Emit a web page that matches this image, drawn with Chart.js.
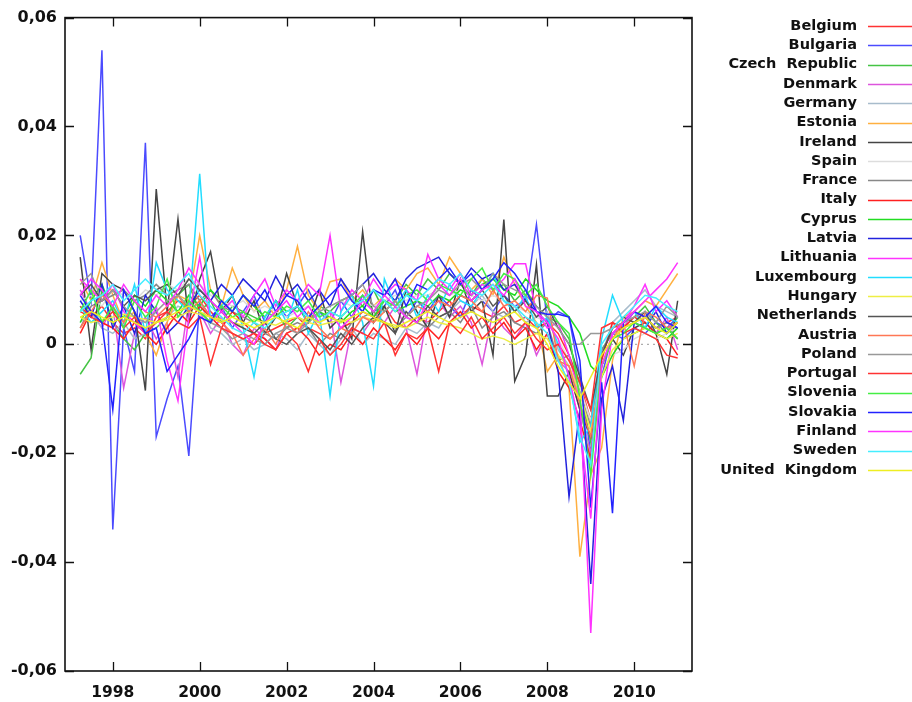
<!DOCTYPE html>
<html><head><meta charset="utf-8">
<script src="https://cdn.jsdelivr.net/npm/chart.js@4/dist/chart.umd.min.js"></script>
<style>html,body{margin:0;padding:0;background:#fff}canvas{display:block}</style>
</head><body>
<canvas id="c" width="912" height="702"></canvas>
<script>
const quarters = [1997.25,1997.5,1997.75,1998.0,1998.25,1998.5,1998.75,1999.0,
1999.25,1999.5,1999.75,2000.0,2000.25,2000.5,2000.75,2001.0,
2001.25,2001.5,2001.75,2002.0,2002.25,2002.5,2002.75,2003.0,
2003.25,2003.5,2003.75,2004.0,2004.25,2004.5,2004.75,2005.0,
2005.25,2005.5,2005.75,2006.0,2006.25,2006.5,2006.75,2007.0,
2007.25,2007.5,2007.75,2008.0,2008.25,2008.5,2008.75,2009.0,
2009.25,2009.5,2009.75,2010.0,2010.25,2010.5,2010.75,2011.0];

const xTickYears = [1998,2000,2002,2004,2006,2008,2010];
const yTickValues = [-0.06,-0.04,-0.02,0,0.02,0.04,0.06];

const countries = ['Belgium','Bulgaria','Czech  Republic','Denmark','Germany','Estonia','Ireland','Spain','France','Italy','Cyprus','Latvia','Lithuania','Luxembourg','Hungary','Netherlands','Austria','Poland','Portugal','Slovenia','Slovakia','Finland','Sweden','United  Kingdom'];

const belgium = [0.006,0.005,0.007,0.004,0.002,0.003,0.001,0.005,
0.006,0.008,0.007,0.009,0.006,0.004,0.002,0.001,
0.000,0.002,0.003,0.004,0.005,0.003,0.002,0.001,
0.003,0.004,0.006,0.005,0.007,0.004,0.003,0.005,
0.004,0.006,0.008,0.005,0.007,0.006,0.005,0.007,
0.004,0.005,0.003,0.004,0.002,-0.002,-0.007,-0.014,
-0.002,0.003,0.004,0.006,0.005,0.003,0.004,0.005];
const bulgaria = [0.020,0.008,0.054,-0.034,0.003,-0.005,0.037,-0.017,
-0.010,-0.004,-0.0205,0.008,0.005,0.007,0.003,0.006,
0.009,0.004,0.008,0.005,0.007,0.010,0.006,0.004,
0.008,0.005,0.009,0.006,0.007,0.010,0.005,0.008,
0.006,0.009,0.007,0.005,0.010,0.008,0.006,0.009,
0.007,0.008,0.022,0.004,0.006,0.005,-0.006,-0.020,
-0.006,0.002,0.001,0.003,0.002,0.004,0.003,0.005];
const czech = [-0.0055,-0.0025,0.010,0.004,0.001,-0.001,0.002,0.003,
0.005,0.009,0.011,0.006,0.008,0.004,0.007,0.006,
0.005,0.004,0.006,0.003,0.005,0.004,0.007,0.006,
0.008,0.009,0.007,0.010,0.006,0.008,0.011,0.009,
0.012,0.010,0.013,0.011,0.009,0.012,0.010,0.011,
0.008,0.010,0.007,0.005,0.004,0.001,-0.008,-0.018,
-0.001,0.002,0.004,0.005,0.007,0.004,0.002,0.005];
const denmark = [0.010,0.006,0.003,0.007,-0.008,0.002,0.005,0.001,
0.004,-0.006,0.008,0.006,0.002,0.005,0.000,-0.002,
0.003,0.001,-0.001,0.004,0.002,0.005,0.004,0.006,
-0.007,0.003,0.002,0.005,0.004,0.007,0.003,-0.0055,
0.006,0.008,0.005,0.007,0.004,-0.0037,0.006,0.003,
0.001,0.004,-0.002,0.002,-0.003,-0.005,-0.012,-0.020,
-0.004,0.001,0.003,0.006,0.004,0.002,0.005,-0.001];
const germany = [0.004,0.006,0.003,0.002,0.004,0.001,0.002,0.004,
0.005,0.007,0.006,0.008,0.003,0.002,0.000,0.001,
-0.001,0.000,0.002,0.001,-0.001,0.002,0.000,-0.002,
0.001,0.003,0.000,0.002,0.001,0.000,0.003,0.002,
0.004,0.003,0.006,0.008,0.007,0.009,0.006,0.005,
0.007,0.004,0.005,0.006,-0.001,-0.004,-0.010,-0.022,
-0.002,0.004,0.006,0.008,0.010,0.007,0.006,0.005];
const estonia = [0.012,0.008,0.015,0.009,0.004,0.006,0.002,-0.002,
0.004,0.009,0.008,0.020,0.010,0.007,0.014,0.009,
0.006,0.008,0.005,0.010,0.018,0.009,0.006,0.0115,
0.012,0.008,0.010,0.007,0.009,0.012,0.010,0.013,
0.014,0.011,0.016,0.013,0.010,0.012,0.009,0.016,
0.011,0.007,0.004,-0.005,-0.002,-0.008,-0.039,-0.024,
-0.019,-0.003,0.005,0.006,0.008,0.007,0.010,0.013];
const ireland = [0.016,-0.001,0.013,0.011,0.010,0.006,-0.0085,0.0285,
0.006,0.023,0.004,0.012,0.017,0.006,0.009,0.004,
0.008,0.002,0.005,0.013,0.007,0.004,0.010,0.003,
0.005,0.001,0.0207,0.004,0.007,0.002,0.010,0.006,
0.003,0.009,0.005,0.012,0.006,0.008,-0.002,0.0229,
-0.0068,-0.002,0.0146,-0.0095,-0.0095,-0.005,-0.012,-0.017,
-0.004,0.001,-0.002,0.003,0.004,0.002,-0.0055,0.008];
const spain = [0.008,0.009,0.007,0.010,0.009,0.008,0.010,0.009,
0.011,0.010,0.012,0.011,0.009,0.008,0.007,0.008,
0.006,0.007,0.006,0.005,0.006,0.007,0.006,0.007,
0.008,0.007,0.008,0.007,0.008,0.009,0.008,0.009,
0.009,0.010,0.009,0.010,0.009,0.008,0.009,0.008,
0.007,0.006,0.005,0.004,0.001,-0.003,-0.008,-0.014,
-0.006,-0.002,-0.001,0.001,0.002,0.001,0.002,0.003];
const france = [0.003,0.007,0.008,0.009,0.010,0.008,0.009,0.011,
0.009,0.010,0.011,0.008,0.010,0.007,0.006,0.005,
0.004,0.002,0.001,0.003,0.004,0.003,0.000,0.002,
0.001,0.004,0.005,0.006,0.004,0.003,0.005,0.004,
0.003,0.005,0.006,0.004,0.007,0.003,0.005,0.006,
0.004,0.003,0.002,0.004,-0.003,-0.002,-0.009,-0.015,
-0.001,0.002,0.003,0.004,0.005,0.003,0.004,0.003];
const italy = [0.002,0.006,0.004,0.003,0.001,0.004,0.002,0.000,
0.003,0.006,0.004,0.007,0.005,0.003,0.006,0.004,
0.002,0.001,-0.001,0.002,0.003,0.001,-0.002,0.000,
-0.001,0.002,0.000,0.003,0.001,-0.001,0.002,0.000,
0.003,0.001,0.004,0.006,0.003,0.005,0.002,0.004,
0.001,0.003,-0.001,0.002,-0.005,-0.008,-0.014,-0.021,
-0.003,0.004,0.003,0.005,0.004,0.002,0.001,-0.002];
const cyprus = [0.004,0.008,0.011,0.006,0.005,0.009,0.007,0.010,
0.008,0.006,0.009,0.007,0.010,0.008,0.006,0.009,
0.007,0.005,0.008,0.006,0.007,0.004,0.006,0.005,
0.004,0.006,0.007,0.005,0.008,0.006,0.007,0.008,
0.007,0.009,0.008,0.010,0.009,0.011,0.012,0.010,
0.009,0.012,0.010,0.008,0.007,0.005,0.002,-0.004,
-0.006,-0.002,0.001,0.002,0.003,0.002,0.001,0.003];
const latvia = [0.008,0.005,0.011,0.003,0.007,0.002,0.009,0.006,
0.002,0.004,0.007,0.010,0.008,0.011,0.009,0.012,
0.010,0.008,0.0125,0.009,0.011,0.008,0.010,0.007,
0.012,0.009,0.011,0.013,0.010,0.008,0.012,0.014,
0.015,0.016,0.013,0.011,0.014,0.012,0.013,0.010,
0.011,0.008,0.006,0.004,-0.005,-0.028,-0.012,-0.044,
-0.010,-0.004,-0.014,0.004,0.003,0.006,0.002,0.004];
const lithuania = [0.012,0.010,0.008,0.011,0.006,0.004,0.002,0.007,
-0.003,-0.0104,0.005,0.016,0.004,0.006,0.008,0.005,
0.009,0.012,0.007,0.010,0.008,0.011,0.009,0.020,
0.006,0.010,0.008,0.012,0.009,0.011,0.010,0.008,
0.0165,0.012,0.010,0.013,0.009,0.011,0.010,0.012,
0.0148,0.0148,0.006,0.003,0.004,-0.002,-0.010,-0.053,
-0.012,0.002,0.004,0.007,0.011,0.006,0.008,0.005];
const luxembourg = [0.007,0.004,0.006,0.008,0.004,0.011,0.002,0.015,
0.010,0.008,0.006,0.0313,0.004,0.007,0.009,0.003,
-0.006,0.005,0.008,0.004,0.010,0.002,0.006,-0.0095,
0.006,0.009,0.004,-0.0077,0.012,0.007,0.010,0.005,
0.009,0.006,0.011,0.008,0.007,0.010,0.013,0.008,
0.006,0.009,0.003,0.005,0.000,-0.006,-0.018,-0.015,
0.001,0.009,0.004,0.006,0.003,0.007,0.005,0.004];
const hungary = [0.005,0.004,0.0045,0.005,0.0055,0.005,0.0045,0.004,
0.0045,0.005,0.006,0.0055,0.005,0.0045,0.004,0.0035,
0.0045,0.004,0.0035,0.0045,0.005,0.004,0.0035,0.004,
0.0045,0.004,0.005,0.0045,0.004,0.0035,0.003,0.004,
0.005,0.004,0.0035,0.003,0.002,0.001,0.0015,0.001,
0.000,0.001,0.002,0.001,-0.002,-0.004,-0.009,-0.016,
-0.006,-0.001,0.001,0.002,0.003,0.002,0.001,0.002];
const netherlands = [0.009,0.011,0.008,0.010,0.007,0.009,0.008,0.010,
0.011,0.009,0.012,0.010,0.008,0.006,0.004,0.003,
0.002,0.004,0.001,0.000,0.002,0.003,0.001,-0.001,
0.002,0.000,0.003,0.005,0.004,0.002,0.006,0.004,
0.007,0.005,0.006,0.009,0.008,0.010,0.007,0.009,
0.006,0.008,0.005,0.007,0.003,0.000,-0.006,-0.012,
-0.002,0.003,0.005,0.004,0.006,0.002,0.003,0.001];
const austria = [0.003,0.006,0.009,0.007,0.004,0.008,0.006,0.005,
0.007,0.009,0.006,0.008,0.005,0.004,0.002,-0.002,
0.001,0.003,0.000,0.004,0.002,0.006,0.003,0.001,
0.003,0.002,0.005,0.004,0.006,0.008,0.005,0.007,
0.006,0.008,0.007,0.009,0.008,0.006,0.010,0.007,
0.008,0.006,0.009,0.0085,-0.003,-0.004,-0.011,-0.017,
-0.004,0.001,0.004,-0.004,0.006,0.005,0.003,0.004];
const poland = [0.011,0.013,0.008,0.010,0.007,0.005,0.004,0.006,
0.008,0.009,0.007,0.006,0.004,0.003,0.001,0.002,
0.001,0.000,0.002,0.003,0.002,0.004,0.006,0.007,
0.008,0.009,0.011,0.007,0.006,0.008,0.005,0.007,
0.008,0.010,0.009,0.011,0.012,0.010,0.013,0.011,
0.010,0.009,0.007,0.005,0.003,0.000,0.000,0.002,
0.002,0.003,0.004,0.005,0.006,0.004,0.007,0.005];
const portugal = [0.007,0.005,0.004,0.006,0.003,0.005,0.002,0.004,
0.006,0.004,0.003,0.005,-0.0037,0.003,0.002,0.001,
0.002,0.000,-0.001,0.002,0.000,-0.005,0.001,-0.002,
0.000,0.003,0.002,0.001,0.004,-0.002,0.002,0.001,
0.003,-0.005,0.004,0.002,0.005,0.001,0.003,0.005,
0.002,0.004,0.001,-0.001,0.000,-0.003,-0.007,-0.012,
0.003,0.004,0.002,0.003,0.002,0.001,-0.002,-0.0025];
const slovenia = [0.006,0.010,0.004,0.007,0.003,0.008,0.005,0.007,
0.012,0.005,0.008,0.006,0.004,0.007,0.005,0.006,
0.004,0.006,0.005,0.007,0.006,0.008,0.005,0.006,
0.005,0.007,0.009,0.006,0.008,0.007,0.009,0.010,
0.008,0.011,0.010,0.009,0.012,0.014,0.010,0.013,
0.012,0.009,0.011,0.007,0.004,0.002,-0.010,-0.024,
-0.004,0.001,0.002,0.004,0.003,0.002,0.003,0.001];
const slovakia = [0.009,0.006,0.004,-0.012,0.010,0.006,0.002,0.003,
-0.005,-0.002,0.001,0.005,0.004,0.008,0.006,0.009,
0.007,0.010,0.006,0.009,0.008,0.005,0.007,0.009,
0.011,0.008,0.006,0.010,0.009,0.012,0.007,0.011,
0.010,0.012,0.014,0.011,0.013,0.010,0.012,0.015,
0.013,0.010,0.006,0.0055,0.0055,0.005,-0.003,-0.030,
-0.007,-0.031,0.004,0.006,0.005,0.007,0.004,0.003];
const finland = [0.009,0.012,0.010,0.007,0.011,0.008,0.006,0.009,
0.007,0.010,0.014,0.011,0.008,0.006,0.004,0.002,
0.000,0.004,0.006,0.008,0.005,0.007,0.004,0.006,
0.003,0.005,0.008,0.006,0.009,0.007,0.005,0.004,
0.008,0.011,0.009,0.012,0.008,0.010,0.011,0.009,
0.012,0.007,0.006,0.004,0.001,-0.006,-0.015,-0.032,
-0.004,0.002,0.004,0.006,0.008,0.010,0.012,0.015];
const sweden = [0.006,0.008,0.009,0.011,0.008,0.010,0.012,0.010,
0.009,0.011,0.013,0.009,0.007,0.005,0.003,0.002,
0.004,0.003,0.005,0.006,0.007,0.005,0.004,0.006,
0.005,0.007,0.008,0.010,0.008,0.006,0.009,0.008,
0.010,0.012,0.011,0.013,0.010,0.009,0.011,0.008,
0.007,0.005,0.004,0.002,-0.003,-0.007,-0.017,-0.022,
0.000,0.003,0.005,0.007,0.009,0.0085,0.007,0.006];
const unitedKingdom = [0.005,0.006,0.005,0.004,0.005,0.004,0.003,0.004,
0.005,0.006,0.007,0.006,0.005,0.004,0.005,0.004,
0.003,0.004,0.005,0.004,0.003,0.005,0.004,0.005,
0.004,0.005,0.006,0.005,0.004,0.003,0.004,0.005,
0.006,0.005,0.004,0.005,0.006,0.005,0.004,0.005,
0.006,0.004,0.003,0.000,-0.004,-0.007,-0.010,-0.006,
-0.002,0.001,0.003,0.004,0.005,0.003,0.002,0.004];

const seriesValues = [belgium,bulgaria,czech,denmark,germany,estonia,ireland,spain,france,italy,cyprus,latvia,lithuania,luxembourg,hungary,netherlands,austria,poland,portugal,slovenia,slovakia,finland,sweden,unitedKingdom];

const colors = ['#ff3333','#4b4bff','#44c444','#dd55dd','#a8bccc','#ffb040','#444444','#dddddd','#888888','#ff2020','#22dd22','#2222dd','#ff33ff','#22ddff','#eeee44','#555555','#ff7755','#999999','#ff3333','#44ee44','#2222ff','#ff33ff','#44eeff','#eeee22'];

const datasets = countries.map((name,k)=>({
  label:name,
  data: seriesValues[k].map((v,i)=>({x:quarters[i],y:v})),
  borderColor: colors[k],
  backgroundColor: colors[k],
  borderWidth:1.5,
  pointRadius:0,
  fill:false,
  tension:0,
  order: countries.length-k
}));

const frame = {
  id:'frame',
  beforeDatasetsDraw(chart){
    const {ctx, chartArea:a, scales:{y}} = chart;
    const y0 = y.getPixelForValue(0);
    ctx.save();
    ctx.strokeStyle='#999'; ctx.lineWidth=1; ctx.setLineDash([2,4]);
    ctx.beginPath(); ctx.moveTo(a.left,y0); ctx.lineTo(a.right,y0); ctx.stroke();
    ctx.restore();
  },
  afterDatasetsDraw(chart){
    const {ctx, chartArea:a, scales:{x,y}} = chart;
    ctx.save();
    ctx.strokeStyle='#111'; ctx.lineWidth=1.6;
    ctx.strokeRect(a.left,a.top,a.right-a.left,a.bottom-a.top);
    ctx.lineWidth=1.3;
    const L=9;
    ctx.beginPath();
    xTickYears.forEach(v=>{
      const px=Math.round(x.getPixelForValue(v))+0.5;
      ctx.moveTo(px,a.bottom); ctx.lineTo(px,a.bottom-L);
      ctx.moveTo(px,a.top); ctx.lineTo(px,a.top+L);
    });
    yTickValues.forEach(v=>{
      const py=Math.round(y.getPixelForValue(v))+0.5;
      ctx.moveTo(a.left,py); ctx.lineTo(a.left+L,py);
      ctx.moveTo(a.right,py); ctx.lineTo(a.right-L,py);
    });
    ctx.stroke();
    ctx.restore();
  },
  afterDraw(chart){
    const ctx = chart.ctx;
    ctx.save();
    ctx.font = 'bold 14.5px "DejaVu Sans"';
    ctx.textAlign='right'; ctx.textBaseline='middle';
    chart.data.datasets.forEach((d,k)=>{
      const yy = 26 + 19.3*k;
      ctx.fillStyle='#111';
      ctx.fillText(d.label, 857, yy);
      ctx.strokeStyle=d.borderColor; ctx.lineWidth=1.5;
      ctx.beginPath(); ctx.moveTo(868, Math.round(yy)+0.5); ctx.lineTo(912, Math.round(yy)+0.5); ctx.stroke();
    });
    ctx.restore();
  }
};

function fmtY(v){
  if (Math.abs(v) < 1e-9) return '0';
  return v.toFixed(2).replace('.',',');
}

new Chart(document.getElementById('c'), {
  type:'line',
  data:{datasets},
  options:{
    responsive:false,
    animation:false,
    layout:{padding:{left:0,right:220,top:12,bottom:0}},
    plugins:{legend:{display:false}, tooltip:{enabled:false}},
    scales:{
      x:{
        type:'linear', min:1996.9, max:2011.33,
        grid:{display:false, drawTicks:false},
        border:{display:false},
        ticks:{font:{family:'DejaVu Sans', size:15.5, weight:'bold'}, color:'#111', padding:13, maxRotation:0, callback:v=>String(v)},
        afterBuildTicks:s=>{s.ticks = xTickYears.map(v=>({value:v}));},
        afterFit:s=>{s.height=31;}
      },
      y:{
        type:'linear', min:-0.06, max:0.06,
        grid:{display:false, drawTicks:false},
        border:{display:false},
        ticks:{font:{family:'DejaVu Sans', size:16, weight:'bold'}, color:'#111', padding:8, callback:v=>fmtY(v)},
        afterBuildTicks:s=>{s.ticks = yTickValues.map(v=>({value:v}));},
        afterFit:s=>{s.width=65;}
      }
    }
  },
  plugins:[frame]
});
</script>
</body></html>
